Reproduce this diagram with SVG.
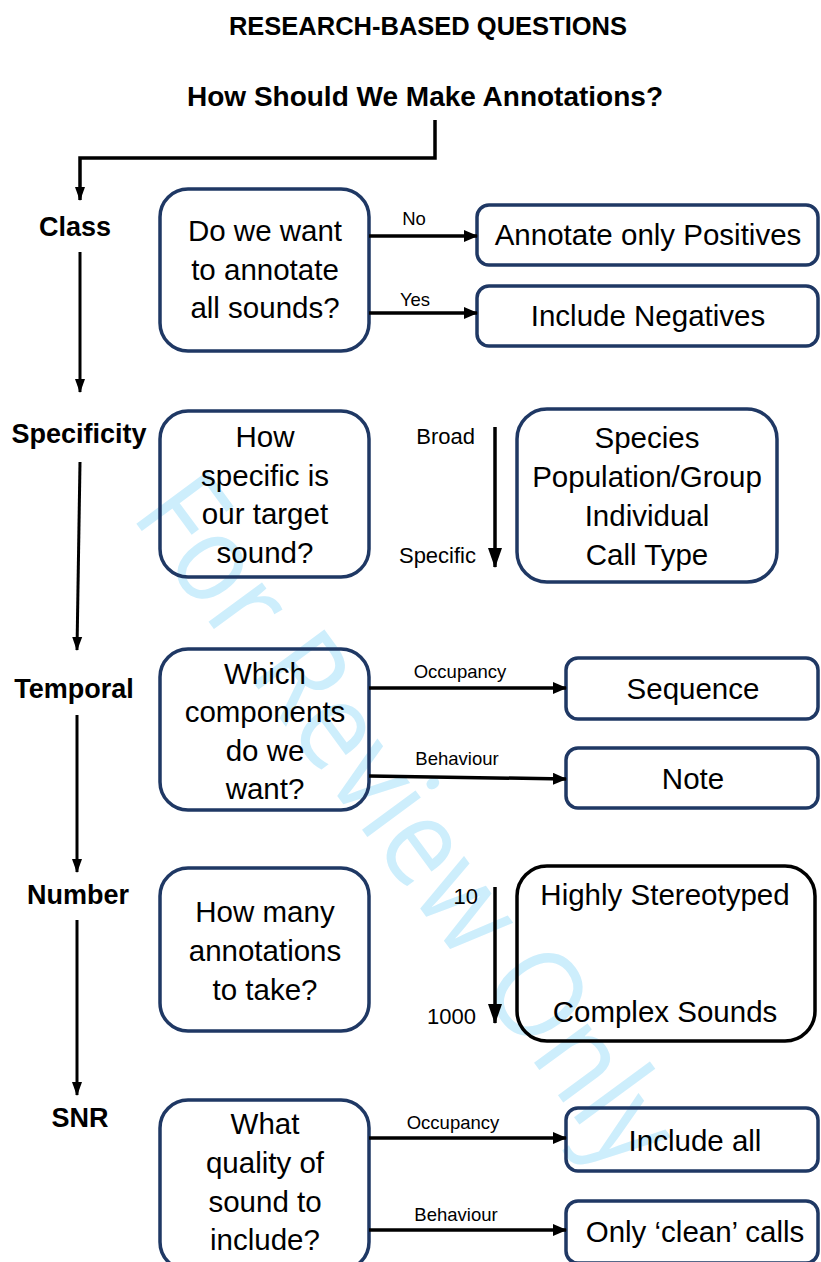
<svg xmlns="http://www.w3.org/2000/svg" width="821" height="1262" viewBox="0 0 821 1262">
  <defs>
    <style>
      .t { font-family: "Liberation Sans", Arial, sans-serif; fill: #000; text-anchor: middle; }
      .title { font-weight: bold; font-size: 25.5px; }
      .head { font-weight: bold; font-size: 28px; }
      .side { font-weight: bold; font-size: 27px; }
      .box { font-size: 29.5px; }
      .lbl { font-size: 18.5px; }
      .scale { font-size: 22px; text-anchor: end; }
      .q { fill: none; stroke: #1f3864; stroke-width: 3.5; }
      .r { fill: none; stroke: #1f3864; stroke-width: 3.5; }
      .k { fill: none; stroke: #000; stroke-width: 3.5; }
      .ln { fill: none; stroke: #000; stroke-width: 3.5; }
      .ln-thin { fill: none; stroke: #000; stroke-width: 3; }
      .wm { font-family: "Open Sans", "Liberation Sans", sans-serif; font-weight: 400; font-size: 124px; fill: #cdeefc; }
    </style>
    <marker id="ah" markerUnits="userSpaceOnUse" markerWidth="14" markerHeight="12" refX="13" refY="6" orient="auto">
      <path d="M0,0 L14,6 L0,12 Z" fill="#000"/>
    </marker>
    <marker id="ahs" markerUnits="userSpaceOnUse" markerWidth="14" markerHeight="12" refX="13" refY="6" orient="auto">
      <path d="M0,1 L14,6 L0,11 Z" fill="#000"/>
    </marker>
    <marker id="ahl" markerUnits="userSpaceOnUse" markerWidth="20" markerHeight="14" refX="19" refY="7" orient="auto">
      <path d="M0,0 L20,7 L0,14 Z" fill="#000"/>
    </marker>
  </defs>

  <rect width="821" height="1262" fill="#fff"/>

  <!-- diagonal background stamp -->
  <text class="wm" transform="translate(130,515) rotate(53.6)" x="0" y="0" textLength="822" lengthAdjust="spacingAndGlyphs">For Review Only</text>

  <!-- headings -->
  <g id="title">
    <text class="t title" x="428" y="35">RESEARCH-BASED QUESTIONS</text>
  </g>
  <g id="root">
    <text class="t head" x="425" y="106">How Should We Make Annotations?</text>
  </g>

  <!-- stage labels -->
  <g id="stage-class"><text class="t side" x="75" y="236">Class</text></g>
  <g id="stage-specificity"><text class="t side" x="79" y="443">Specificity</text></g>
  <g id="stage-temporal"><text class="t side" x="74" y="698">Temporal</text></g>
  <g id="stage-number"><text class="t side" x="78" y="904">Number</text></g>
  <g id="stage-snr"><text class="t side" x="80" y="1127">SNR</text></g>

  <!-- question boxes -->
  <g id="q-class">
    <rect class="q" x="160" y="189" width="209" height="162" rx="28"/>
    <text class="t box" x="265" y="241">Do we want</text>
    <text class="t box" x="265" y="280">to annotate</text>
    <text class="t box" x="265" y="318">all sounds?</text>
  </g>
  <g id="q-specificity">
    <rect class="q" x="160" y="411" width="209" height="166" rx="28"/>
    <text class="t box" x="265" y="447">How</text>
    <text class="t box" x="265" y="486">specific is</text>
    <text class="t box" x="265" y="524">our target</text>
    <text class="t box" x="265" y="563">sound?</text>
  </g>
  <g id="q-temporal">
    <rect class="q" x="160" y="649" width="209" height="161" rx="28"/>
    <text class="t box" x="265" y="684">Which</text>
    <text class="t box" x="265" y="722">components</text>
    <text class="t box" x="265" y="761">do we</text>
    <text class="t box" x="265" y="799">want?</text>
  </g>
  <g id="q-number">
    <rect class="q" x="160" y="868" width="209" height="163" rx="28"/>
    <text class="t box" x="265" y="922">How many</text>
    <text class="t box" x="265" y="961">annotations</text>
    <text class="t box" x="265" y="1000">to take?</text>
  </g>
  <g id="q-snr">
    <rect class="q" x="160" y="1100" width="209" height="170" rx="28"/>
    <text class="t box" x="265" y="1134">What</text>
    <text class="t box" x="265" y="1173">quality of</text>
    <text class="t box" x="265" y="1212">sound to</text>
    <text class="t box" x="265" y="1250">include?</text>
  </g>

  <!-- outcome boxes -->
  <g id="a-positives">
    <rect class="r" x="477" y="205" width="341" height="60" rx="12"/>
    <text class="t box" x="648" y="245">Annotate only Positives</text>
  </g>
  <g id="a-negatives">
    <rect class="r" x="477" y="286" width="341" height="60" rx="12"/>
    <text class="t box" x="648" y="326">Include Negatives</text>
  </g>
  <g id="a-levels">
    <rect class="r" x="517" y="409" width="260" height="173" rx="30"/>
    <text class="t box" x="647" y="448">Species</text>
    <text class="t box" x="647" y="487">Population/Group</text>
    <text class="t box" x="647" y="526">Individual</text>
    <text class="t box" x="647" y="565">Call Type</text>
  </g>
  <g id="a-sequence">
    <rect class="r" x="566" y="658" width="252" height="61" rx="12"/>
    <text class="t box" x="693" y="699">Sequence</text>
  </g>
  <g id="a-note">
    <rect class="r" x="566" y="748" width="252" height="60" rx="12"/>
    <text class="t box" x="693" y="789">Note</text>
  </g>
  <g id="a-stereotypy">
    <rect class="k" x="517" y="866" width="298" height="175" rx="30"/>
    <text class="t box" x="665" y="905">Highly Stereotyped</text>
    <text class="t box" x="665" y="1022">Complex Sounds</text>
  </g>
  <g id="a-include-all">
    <rect class="r" x="566" y="1108" width="252" height="63" rx="12"/>
    <text class="t box" x="695" y="1151">Include all</text>
  </g>
  <g id="a-clean">
    <rect class="r" x="566" y="1201" width="252" height="62" rx="12"/>
    <text class="t box" x="695" y="1242">Only ‘clean’ calls</text>
  </g>

  <!-- connectors -->
  <g id="connectors">
    <path class="ln" d="M435,120 V158 H80 V200" marker-end="url(#ahs)"/>
    <path class="ln-thin" d="M80,252 V392" marker-end="url(#ahs)"/>
    <path class="ln-thin" d="M80,462 L77,650" marker-end="url(#ahs)"/>
    <path class="ln-thin" d="M77,715 V872" marker-end="url(#ahs)"/>
    <path class="ln-thin" d="M77,920 V1095" marker-end="url(#ahs)"/>

    <path class="ln" d="M369,236 H477" marker-end="url(#ah)"/>
    <path class="ln" d="M369,313 H477" marker-end="url(#ah)"/>
    <path class="ln" d="M369,688 H566" marker-end="url(#ah)"/>
    <path class="ln" d="M369,776 L566,779" marker-end="url(#ah)"/>
    <path class="ln" d="M369,1138 H566" marker-end="url(#ah)"/>
    <path class="ln" d="M369,1230 H566" marker-end="url(#ah)"/>

    <path class="ln" d="M495,427 V567" marker-end="url(#ahl)"/>
    <path class="ln" d="M495,887 V1023" marker-end="url(#ahl)"/>
  </g>

  <!-- connector labels -->
  <g id="connector-labels">
    <text class="t lbl" x="414" y="225">No</text>
    <text class="t lbl" x="415" y="306">Yes</text>
    <text class="t lbl" x="460" y="678">Occupancy</text>
    <text class="t lbl" x="457" y="765">Behaviour</text>
    <text class="t lbl" x="453" y="1129">Occupancy</text>
    <text class="t lbl" x="456" y="1221">Behaviour</text>
    <text class="t scale" x="475" y="444">Broad</text>
    <text class="t scale" x="476" y="563">Specific</text>
    <text class="t scale" x="478" y="904">10</text>
    <text class="t scale" x="476" y="1024">1000</text>
  </g>
</svg>
